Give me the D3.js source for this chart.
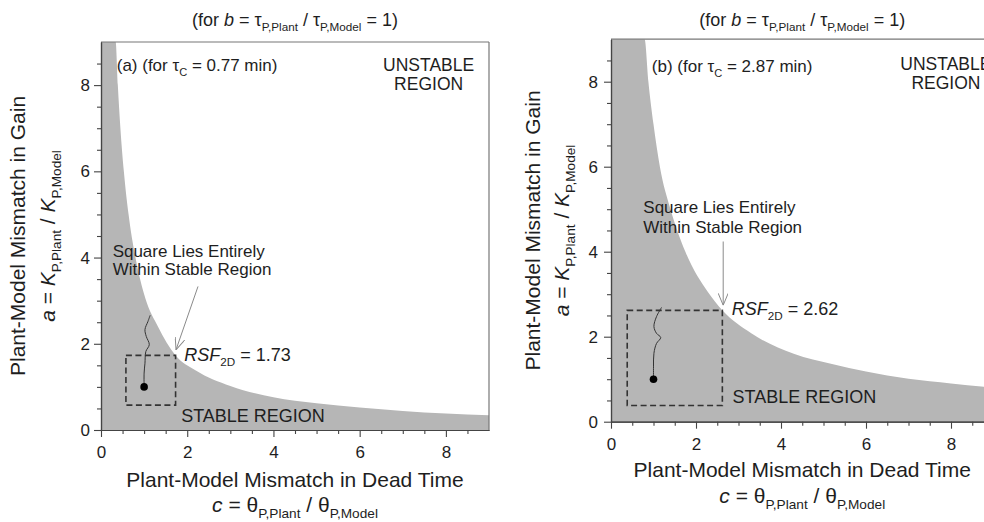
<!DOCTYPE html>
<html>
<head>
<meta charset="utf-8">
<script src="https://cdn.jsdelivr.net/npm/d3@7"></script>
<style>
  body { margin: 0; background: #fff; }
  svg { display: block; font-family: Arial, "Liberation Sans", sans-serif; }
</style>
</head>
<body>
<div id="chart"></div>
<script>
const W = 984, H = 522;

// ticks, same on both axes of both panels
const majorTicks = [0, 2, 4, 6, 8];
const minorTicks = [0.5, 1, 1.5, 2.5, 3, 3.5, 4.5, 5, 5.5, 6.5, 7, 7.5, 8.5];
const axisMax = 9;

// stability boundary: [c, a]
const boundaryA = [[0, 9], [0.34, 9], [0.39, 8], [0.45, 7], [0.53, 6], [0.64, 5], [0.8, 4],
  [1.03, 3.05], [1.32, 2.4], [1.73, 1.73], [2.2, 1.38], [3, 1.02], [4, 0.76], [5, 0.62],
  [6, 0.52], [7, 0.44], [8, 0.38], [9, 0.34]];
const boundaryB = [[0, 9], [0.79, 9], [0.88, 8], [1.0, 7], [1.15, 6], [1.4, 5], [1.75, 4],
  [2.28, 3.05], [2.62, 2.62], [3.3, 2.08], [4.3, 1.6], [5.2, 1.36], [6, 1.18], [7, 1.01],
  [8, 0.9], [9, 0.8]];

// wandering path up from the nominal point (1, 1)
const pathA = [[1.0, 1.0], [1.0, 1.32], [1.02, 1.55], [1.04, 1.82], [1.12, 1.98], [1.05, 2.17],
  [1.02, 2.33], [1.09, 2.52], [1.14, 2.66]];
const pathB = [[1.0, 1.0], [1.0, 1.29], [1.01, 1.61], [1.07, 1.84], [1.17, 1.98], [1.07, 2.08],
  [1.01, 2.24], [1.07, 2.47], [1.19, 2.69]];

const rsfA = 1.73, rsfB = 2.62;
const tauA = "0.77", tauB = "2.87";

const panels = [
  {
    name: "a", left: 101, right: 489, top: 42, bottom: 430,
    boundary: boundaryA, path: pathA, rsf: rsfA, tau: tauA,
    label: [0.365, 8.33], unstable: [7.6, 8.33], note: [0.27, 4.02], noteGap: 0.43,
    arrow: [[2.25, 3.33], [1.74, 1.86]], rsfText: [1.93, 1.6], stable: [1.86, 0.19],
    yl1: -76, yl2: -46, xl1: 57, xl2: 82, yPad: 4
  },
  {
    name: "b", left: 611, right: 993.5, top: 39.2, bottom: 421.7,
    boundary: boundaryB, path: pathB, rsf: rsfB, tau: tauB,
    label: [0.96, 8.23], unstable: [7.88, 8.27], note: [0.76, 4.9], noteGap: 0.47,
    arrow: [[2.64, 4.24], [2.64, 2.74]], rsfText: [2.84, 2.51], stable: [2.86, 0.43],
    yl1: -71, yl2: -42, xl1: 55, xl2: 81, yPad: 6
  }
];

const ink = "#1e1e1e";
const fillGray = "#b6b6b6";

const svg = d3.select("#chart").append("svg")
  .attr("width", W)
  .attr("height", H);

svg.append("defs").append("marker")
  .attr("id", "head")
  .attr("viewBox", "0 0 12 10")
  .attr("refX", 12).attr("refY", 5)
  .attr("markerWidth", 12).attr("markerHeight", 10)
  .attr("markerUnits", "userSpaceOnUse")
  .attr("orient", "auto")
  .append("path")
  .attr("d", "M0,0 L12,5 L0,10")
  .attr("fill", "none")
  .attr("stroke", "#8a8a8a")
  .attr("stroke-width", 1);

// text with italic parts and subscripts
function rich(sel, parts, size) {
  let down = false;
  parts.forEach(p => {
    const ts = sel.append("tspan").text(p.t);
    if (p.i) ts.style("font-style", "italic");
    if (p.sub) {
      ts.attr("font-size", size * 0.65);
      if (!down) ts.attr("dy", size * 0.3);
      down = true;
    } else if (down) {
      ts.attr("dy", -size * 0.3);
      down = false;
    }
  });
  return sel;
}

function drawPanel(p) {
  const x = d3.scaleLinear().domain([0, axisMax]).range([p.left, p.right]);
  const y = d3.scaleLinear().domain([0, axisMax]).range([p.bottom, p.top]);
  const g = svg.append("g").attr("class", "panel-" + p.name);

  g.append("clipPath").attr("id", "clip-" + p.name)
    .append("rect")
    .attr("x", p.left).attr("y", p.top)
    .attr("width", p.right - p.left).attr("height", p.bottom - p.top);

  // stable region
  const area = d3.area()
    .x(d => x(d[0]))
    .y0(y(0))
    .y1(d => y(d[1]))
    .curve(d3.curveMonotoneX);

  g.append("path")
    .datum(p.boundary)
    .attr("clip-path", "url(#clip-" + p.name + ")")
    .attr("d", area)
    .attr("fill", fillGray);

  // frame top / right
  g.append("line")
    .attr("x1", p.left).attr("x2", p.right)
    .attr("y1", p.top).attr("y2", p.top)
    .attr("stroke", "#777").attr("stroke-width", 1.2);
  g.append("line")
    .attr("x1", p.right).attr("x2", p.right)
    .attr("y1", p.top).attr("y2", p.bottom)
    .attr("stroke", "#777").attr("stroke-width", 1.2);

  // dashed square 1/RSF .. RSF
  const lo = 1 / p.rsf;
  g.append("rect")
    .attr("x", x(lo)).attr("y", y(p.rsf))
    .attr("width", x(p.rsf) - x(lo))
    .attr("height", y(lo) - y(p.rsf))
    .attr("fill", "none")
    .attr("stroke", "#333")
    .attr("stroke-width", 1.6)
    .attr("stroke-dasharray", "6,3.5");

  // path + nominal point
  g.append("path")
    .datum(p.path)
    .attr("d", d3.line().x(d => x(d[0])).y(d => y(d[1])).curve(d3.curveCatmullRom))
    .attr("fill", "none")
    .attr("stroke", "#333")
    .attr("stroke-width", 1);
  g.append("circle")
    .attr("cx", x(p.path[0][0])).attr("cy", y(p.path[0][1]))
    .attr("r", 3.8)
    .attr("fill", "#000");

  // arrow
  g.append("line")
    .attr("x1", x(p.arrow[0][0])).attr("y1", y(p.arrow[0][1]))
    .attr("x2", x(p.arrow[1][0])).attr("y2", y(p.arrow[1][1]))
    .attr("stroke", "#8a8a8a")
    .attr("stroke-width", 1)
    .attr("marker-end", "url(#head)");

  // texts inside plot
  rich(g.append("text")
    .attr("x", x(p.label[0])).attr("y", y(p.label[1]))
    .attr("font-size", 17).attr("fill", ink),
    [{ t: "(" + p.name + ") (for τ" }, { t: "C", sub: 1 }, { t: " = " + p.tau + " min)" }], 17);

  g.append("text")
    .attr("x", x(p.unstable[0])).attr("y", y(p.unstable[1]))
    .attr("text-anchor", "middle")
    .attr("font-size", 17.5).attr("fill", ink)
    .text("UNSTABLE");
  g.append("text")
    .attr("x", x(p.unstable[0])).attr("y", y(p.unstable[1]) + 19)
    .attr("text-anchor", "middle")
    .attr("font-size", 17.5).attr("fill", ink)
    .text("REGION");

  g.append("text")
    .attr("x", x(p.note[0])).attr("y", y(p.note[1]))
    .attr("font-size", 17).attr("fill", ink)
    .text("Square Lies Entirely");
  g.append("text")
    .attr("x", x(p.note[0])).attr("y", y(p.note[1] - p.noteGap))
    .attr("font-size", 17).attr("fill", ink)
    .text("Within Stable Region");

  rich(g.append("text")
    .attr("x", x(p.rsfText[0])).attr("y", y(p.rsfText[1]))
    .attr("font-size", 18).attr("fill", ink),
    [{ t: "RSF", i: 1 }, { t: "2D", sub: 1 }, { t: " = " + p.rsf.toFixed(2) }], 18);

  g.append("text")
    .attr("x", x(p.stable[0])).attr("y", y(p.stable[1]))
    .attr("font-size", 18).attr("fill", ink)
    .text("STABLE REGION");

  // axes
  g.append("g").attr("transform", `translate(0,${p.bottom})`)
    .call(d3.axisBottom(x).tickValues(majorTicks).tickSize(7).tickSizeOuter(0)
      .tickPadding(9).tickFormat(d3.format("d")));
  g.append("g").attr("transform", `translate(0,${p.bottom})`)
    .call(d3.axisBottom(x).tickValues(minorTicks).tickSize(4).tickSizeOuter(0).tickFormat(""));
  g.append("g").attr("transform", `translate(${p.left},0)`)
    .call(d3.axisLeft(y).tickValues(majorTicks).tickSize(7).tickSizeOuter(0)
      .tickPadding(p.yPad).tickFormat(d3.format("d")));
  g.append("g").attr("transform", `translate(${p.left},0)`)
    .call(d3.axisLeft(y).tickValues(minorTicks).tickSize(4).tickSizeOuter(0).tickFormat(""));

  g.selectAll(".domain").attr("stroke", "#444").attr("stroke-width", 1.2);
  g.selectAll(".tick line").attr("stroke", "#444").attr("stroke-width", 1.1);
  g.selectAll(".tick text").attr("font-size", 17).attr("fill", ink)
    .attr("font-family", "Arial, 'Liberation Sans', sans-serif");

  // title
  const cx = (p.left + p.right) / 2;
  rich(g.append("text")
    .attr("x", cx).attr("y", 26)
    .attr("text-anchor", "middle")
    .attr("font-size", 18).attr("fill", ink),
    [{ t: "(for " }, { t: "b", i: 1 }, { t: " = τ" }, { t: "P,Plant", sub: 1 }, { t: " / τ" },
     { t: "P,Model", sub: 1 }, { t: " = 1)" }], 18);

  // x labels
  g.append("text")
    .attr("x", cx).attr("y", p.bottom + p.xl1)
    .attr("text-anchor", "middle")
    .attr("font-size", 21).attr("fill", ink)
    .text("Plant-Model Mismatch in Dead Time");
  rich(g.append("text")
    .attr("x", cx).attr("y", p.bottom + p.xl2)
    .attr("text-anchor", "middle")
    .attr("font-size", 21).attr("fill", ink),
    [{ t: "c", i: 1 }, { t: " = θ" }, { t: "P,Plant", sub: 1 }, { t: " / θ" }, { t: "P,Model", sub: 1 }], 21);

  // y labels
  const cy = (p.top + p.bottom) / 2;
  g.append("text")
    .attr("transform", `translate(${p.left + p.yl1},${cy}) rotate(-90)`)
    .attr("text-anchor", "middle")
    .attr("font-size", 21).attr("fill", ink)
    .text("Plant-Model Mismatch in Gain");
  rich(g.append("text")
    .attr("transform", `translate(${p.left + p.yl2},${cy}) rotate(-90)`)
    .attr("text-anchor", "middle")
    .attr("font-size", 21).attr("fill", ink),
    [{ t: "a", i: 1 }, { t: " = " }, { t: "K", i: 1 }, { t: "P,Plant", sub: 1 }, { t: " / " },
     { t: "K", i: 1 }, { t: "P,Model", sub: 1 }], 21);
}

panels.forEach(drawPanel);
</script>
</body>
</html>
